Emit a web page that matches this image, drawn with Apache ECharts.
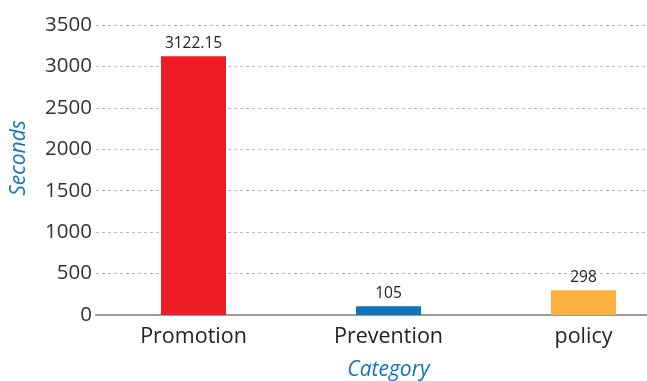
<!DOCTYPE html>
<html><head><meta charset="utf-8">
<script src="https://cdn.jsdelivr.net/npm/echarts@6/dist/echarts.min.js"></script>
<style>html,body{margin:0;padding:0;background:#fff}#c{width:647px;height:381px}</style>
</head><body><div id="c"></div>
<script>
const categories = ['Promotion', 'Prevention', 'policy'];
const values = [3122.15, 105, 298];
const barColors = ['#ed1c24', '#1273bd', '#fbb040'];
const yTicks = {min: 0, max: 3500, interval: 500};

const chart = echarts.init(document.getElementById('c'));
chart.setOption({
  animation: false,
  grid: {left: 96, width: 585, top: 25, bottom: 66, containLabel: false, outerBoundsMode: 'none'},
  xAxis: {
    type: 'category', data: categories,
    name: 'Category', nameLocation: 'middle', nameGap: 45,
    nameTextStyle: {color: '#1273bd', fontStyle: 'italic', fontSize: 21, fontFamily: 'Open Sans'},
    axisLine: {lineStyle: {color: '#999', width: 2}},
    axisTick: {show: false},
    axisLabel: {color: '#222', fontSize: 21.5, fontFamily: 'Open Sans', margin: 11}
  },
  yAxis: {
    type: 'value', min: yTicks.min, max: yTicks.max, interval: yTicks.interval,
    name: 'Seconds', nameLocation: 'middle', nameGap: 66,
    nameTextStyle: {color: '#1273bd', fontStyle: 'italic', fontSize: 21, fontFamily: 'Open Sans', padding: [0, 0, 0, 24]},
    axisLine: {show: false}, axisTick: {show: false},
    axisLabel: {color: '#333', fontSize: 20.5, fontFamily: 'Open Sans', margin: 4, formatter: v => String(v)},
    splitLine: {lineStyle: {color: '#bbb', type: [3, 3], width: 1}}
  },
  series: [{
    type: 'bar', barWidth: 65,
    data: values.map((v, i) => ({value: v, itemStyle: {color: barColors[i]}})),
    label: {show: true, position: 'top', distance: 5, color: '#222', fontSize: 15.5, fontFamily: 'Open Sans'}
  }]
});
</script></body></html>
